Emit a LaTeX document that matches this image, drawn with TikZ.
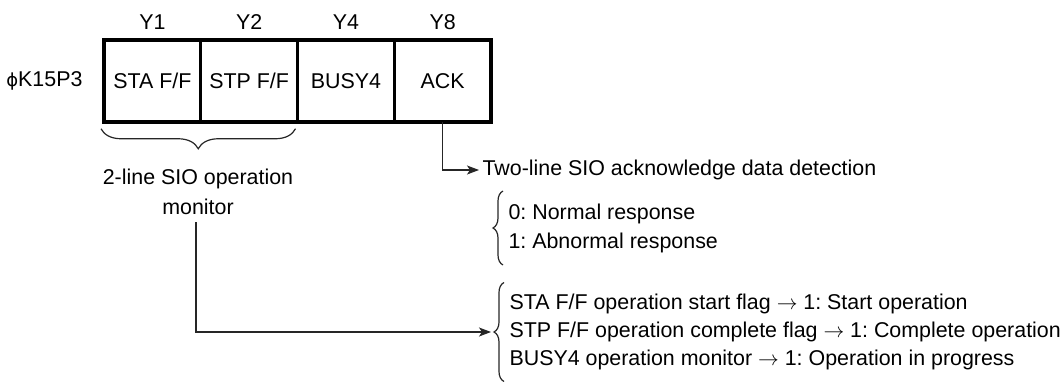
\documentclass[tikz,border=0pt]{standalone}
\usepackage{fontspec}
\setmainfont{Liberation Sans}
\newfontfamily\symfont{DejaVu Sans}
\frenchspacing
\usetikzlibrary{positioning,calc,arrows.meta,decorations.pathreplacing}

\begin{document}
\begin{tikzpicture}[x=1pt, y=-1pt, >={Stealth[length=12pt, width=9pt, inset=3pt]},
  font=\fontsize{21.4}{25}\selectfont,
  cell/.style={draw, line width=1.5pt, minimum width=95.25pt, minimum height=80pt, inner sep=0pt},
  wire/.style={line width=1.2pt, black!85},
  curly/.style={decorate, line width=1.2pt, black!85}]
  \useasboundingbox (0,0) rectangle (1064,385);

  % Register cells
  \node[cell, anchor=west] (sta) at (104,81) {STA F/F};
  \node[cell, right=0pt of sta] (stp) {STP F/F};
  \node[cell, right=0pt of stp] (busy) {BUSY4};
  \node[cell, right=0pt of busy] (ack) {ACK};
  \draw[line width=3.5pt] (sta.north west) rectangle (ack.south east);

  % Bit names and register name
  \node[above=7pt of sta] (y1) {Y1};
  \node[above=7pt of stp] (y2) {Y2};
  \node[above=7pt of busy] (y4) {Y4};
  \node[above=7pt of ack] (y8) {Y8};
  \node[left=18pt of sta] (reg) {{\symfont\fontsize{18}{20}\selectfont ϕ}K15P3};

  % Brace under the two flip-flops
  \draw[curly, decoration={brace, mirror, amplitude=20pt}]
    ($(sta.south west)+(-3,7)$) -- ($(stp.south east)+(-2,7)$);
  \node[align=center, font=\fontsize{21.4}{30}\selectfont] (mon) at (198,192) {2-line SIO operation\\monitor};

  % ACK output
  \node[anchor=west] (ackdet) at (479,170) {Two-line SIO acknowledge data detection};
  \draw[wire, ->] (ack.south) |- (ackdet.west);
  \node[anchor=west, align=left, font=\fontsize{21.4}{29}\selectfont] (resp) at (505,228)
    {0: Normal response\\1: Abnormal response};
  \draw[curly, decoration={brace, amplitude=10pt}]
    ($(resp.south west)+(-2,9)$) -- ($(resp.north west)+(-2,-9)$);

  % Monitor flags
  \node[anchor=west, align=left, font=\fontsize{21.4}{28}\selectfont] (flags) at (506,332)
    {STA F/F operation start flag $\rightarrow$ 1: Start operation\\
     STP F/F operation complete flag $\rightarrow$ 1: Complete operation\\
     BUSY4 operation monitor $\rightarrow$ 1: Operation in progress};
  \draw[curly, decoration={brace, amplitude=10pt}]
    ($(flags.south west)+(-2,8)$) -- ($(flags.north west)+(-2,-8)$);
  \coordinate (ftip) at ($(flags.west)+(-15,0)$);
  \draw[wire, ->] ($(mon.south)+(-2,4)$) |- (ftip);
\end{tikzpicture}
\end{document}
